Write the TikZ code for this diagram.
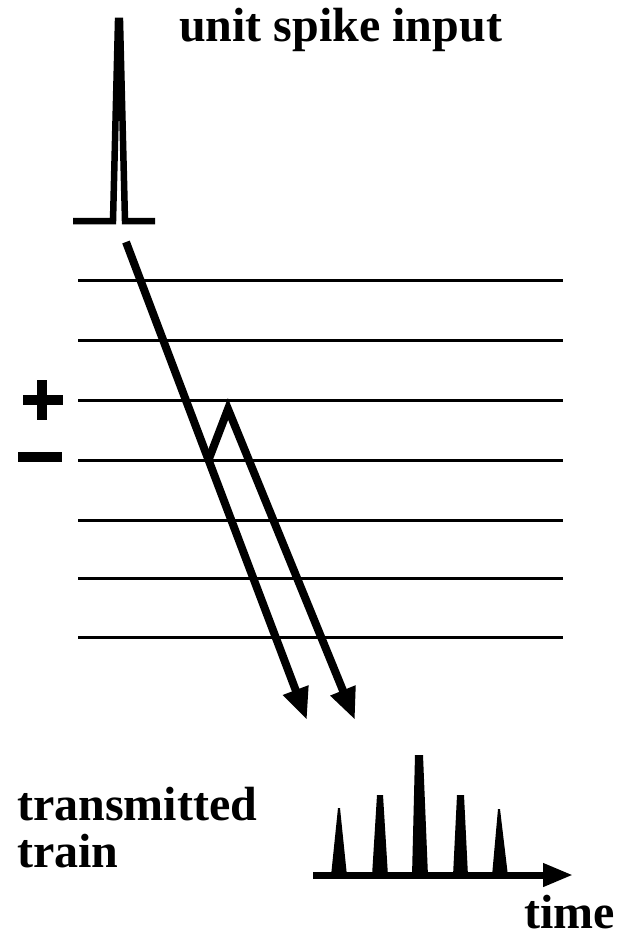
\documentclass[tikz,border=0pt]{standalone}
\usepackage{fontspec}
\setmainfont{Liberation Serif}[BoldFont={Liberation Serif Bold}]
\newfontfamily\lblfont{Liberation Serif Bold}
\usetikzlibrary{arrows.meta}
\begin{document}
\begin{tikzpicture}[x=1pt,y=-1pt,
  lbl/.style={font=\lblfont\fontsize{48}{48}\selectfont, inner sep=0pt, anchor=base west},
  layer/.style={line width=3pt},
  sign/.style={line width=10pt},
  ray/.style={line width=8pt, -{Triangle[length=32pt,width=25pt]}, line join=miter},
  spk/.style={line width=6.5pt, line join=miter},
  pk/.style={fill=black}]
\useasboundingbox (0,0) rectangle (616,942);
% input spike
\draw[spk] (73,221) -- (113,221) -- (118,21) -- (120,21) -- (125,221) -- (155,221);
\node[lbl] (title) at (179,42) {unit spike input};
% layers
\foreach \y in {280,340,400,460,520,578,637}
  \draw[layer] (78,\y) -- (563,\y);
% signs
\draw[sign] (23,400) -- (63,400) (42,380) -- (42,420);
\draw[sign] (18,457) -- (62,457);
% rays
\coordinate (s) at (126,242);
\coordinate (r1) at (208.5,460);
\coordinate (r2) at (228,409);
\coordinate (e1) at (307,720);
\coordinate (e2) at (355,720);
\draw[ray] (s) -- (e1);
\draw[ray] (r1) -- (r2) -- (e2);
% transmitted train
\node[lbl] (tt) at (17,820) {transmitted};
\node[lbl] (tr) at (17,867) {train};
\coordinate (t0) at (313,875);
\coordinate (t1) at (573,875);
\draw[line width=7pt, -{Triangle[length=30pt,width=22pt]}] (t0) -- (t1);
\fill[pk] (331,876) -- (338,808) -- (340,808) -- (347,876) -- cycle;
\fill[pk] (372,876) -- (377,795) -- (383,795) -- (388,876) -- cycle;
\fill[pk] (412,876) -- (415,755) -- (423,755) -- (428,876) -- cycle;
\fill[pk] (453,876) -- (457,795) -- (464,795) -- (468,876) -- cycle;
\fill[pk] (492,876) -- (498,809) -- (500,809) -- (508,876) -- cycle;
\node[lbl] (time) at (524,928) {time};
\end{tikzpicture}
\end{document}
